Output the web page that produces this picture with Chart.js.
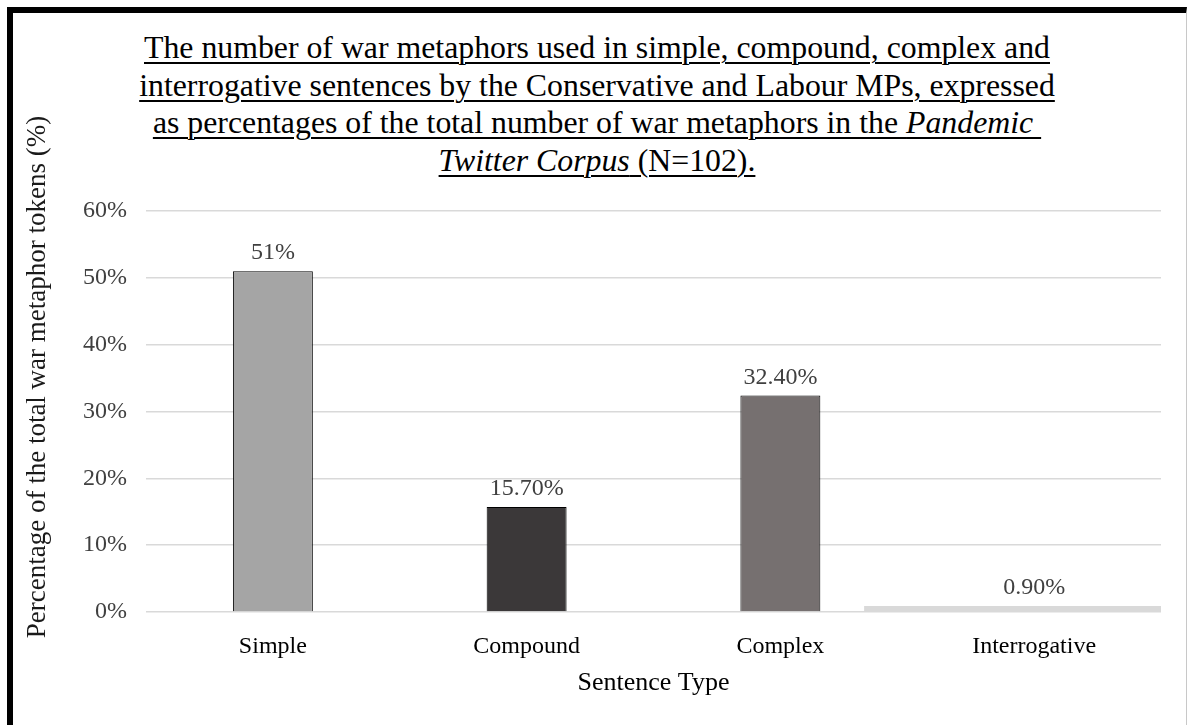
<!DOCTYPE html>
<html>
<head>
<meta charset="utf-8">
<title>War metaphors by sentence type</title>
<script src="https://cdn.jsdelivr.net/npm/chart.js@4.4.1/dist/chart.umd.min.js"></script>
<style>
  html, body { margin: 0; padding: 0; background: #fff; }
  #stage { position: relative; width: 1187px; height: 725px; overflow: hidden; }
  #frame {
    position: absolute; left: 7px; top: 7px; width: 1180px; height: 760px;
    box-sizing: border-box;
    border-left: 6px solid #000; border-top: 6px solid #000; border-right: 1px solid #c8c8c8;
  }
  #heading {
    position: absolute; left: 97px; top: 29px; width: 1000px; margin: 0;
    text-align: center; font-family: "Liberation Serif", "Times New Roman", serif;
    font-size: 31.8px; font-weight: normal; line-height: 37.5px; color: #000;
  }
  #heading u { text-decoration-thickness: 1.5px; text-underline-offset: 4px; }
  canvas { position: absolute; left: 0; top: 0; }
</style>
</head>
<body>
<div id="stage">
  <div id="frame"></div>
  <h1 id="heading"><u>The number of war metaphors used in simple, compound, complex and</u><br><u>interrogative sentences by the Conservative and Labour MPs, expressed</u><br><u>as percentages of the total number of war metaphors in the <i>Pandemic&nbsp;</i></u><br><u><i>Twitter Corpus</i> (N=102).</u></h1>
  <canvas id="chart" width="1187" height="725"></canvas>
</div>
<script>
// Sentence types and their share of all war-metaphor tokens (%)
const categories = ['Simple', 'Compound', 'Complex', 'Interrogative'];
const shares = [51, 15.7, 32.4, 0.9];
const yTickValues = [0, 10, 20, 30, 40, 50, 60];

// Fill colours per sentence type; the last type is drawn as a wide pale band
const fills = ['#a5a5a5', '#3b3839', '#767070', '#d9d9d9'];
const wideBand = [false, false, false, true];

const SERIF = '"Liberation Serif", "Times New Roman", serif';

function formatShare(v) {
  return Number.isInteger(v) ? v + '%' : v.toFixed(2) + '%';
}

// Narrow outlined columns and the wide band are separate datasets so each can have its own width
const narrowData = shares.map((v, i) => (wideBand[i] ? null : v));
const wideData = shares.map((v, i) => (wideBand[i] ? v : null));

const valueLabels = {
  id: 'valueLabels',
  afterDatasetsDraw(chart) {
    const ctx = chart.ctx;
    ctx.save();
    ctx.font = '24px ' + SERIF;
    ctx.fillStyle = '#404040';
    ctx.textAlign = 'center';
    ctx.textBaseline = 'middle';
    chart.data.datasets.forEach((ds, di) => {
      const meta = chart.getDatasetMeta(di);
      meta.data.forEach((bar, i) => {
        const v = ds.data[i];
        if (v === null || v === undefined) return;
        ctx.fillText(formatShare(v), bar.x, bar.y - 18);
      });
    });
    ctx.restore();
  }
};

const sideTitle = {
  id: 'sideTitle',
  afterDraw(chart) {
    const ctx = chart.ctx;
    ctx.save();
    ctx.translate(38, 377);
    ctx.rotate(-Math.PI / 2);
    ctx.font = '27px ' + SERIF;
    ctx.fillStyle = '#1a1a1a';
    ctx.textAlign = 'center';
    ctx.textBaseline = 'middle';
    ctx.fillText('Percentage of the total war metaphor tokens (%)', 0, 0);
    ctx.restore();
  }
};

new Chart(document.getElementById('chart'), {
  type: 'bar',
  data: {
    labels: categories,
    datasets: [
      {
        data: narrowData,
        backgroundColor: fills,
        borderColor: '#000',
        borderWidth: 1,
        categoryPercentage: 1,
        barPercentage: 0.315,
        grouped: false
      },
      {
        data: wideData,
        backgroundColor: fills,
        borderWidth: 0,
        categoryPercentage: 1,
        barPercentage: 1.34,
        grouped: false,
        clip: 0
      }
    ]
  },
  options: {
    responsive: false,
    animation: false,
    devicePixelRatio: 1,
    layout: { padding: { left: 13, right: 26, top: 211, bottom: 13 } },
    plugins: {
      legend: { display: false },
      tooltip: { enabled: false }
    },
    scales: {
      x: {
        afterFit(scale) { scale.height = 100; },
        grid: { display: false, drawTicks: false },
        border: { display: false },
        ticks: {
          padding: 20,
          color: '#000',
          font: { family: SERIF, size: 24 }
        },
        title: {
          display: true,
          text: 'Sentence Type',
          color: '#000',
          font: { family: SERIF, size: 26 },
          padding: { top: 0, bottom: 13 }
        }
      },
      y: {
        min: 0,
        max: 60,
        afterFit(scale) { scale.width = 133; },
        afterBuildTicks(scale) { scale.ticks = yTickValues.map(v => ({ value: v })); },
        grid: { color: '#d9d9d9', lineWidth: 1.5, drawTicks: false },
        border: { display: false },
        ticks: {
          padding: 19,
          color: '#404040',
          font: { family: SERIF, size: 24 },
          callback: v => v + '%'
        }
      }
    }
  },
  plugins: [valueLabels, sideTitle]
});
</script>
</body>
</html>
